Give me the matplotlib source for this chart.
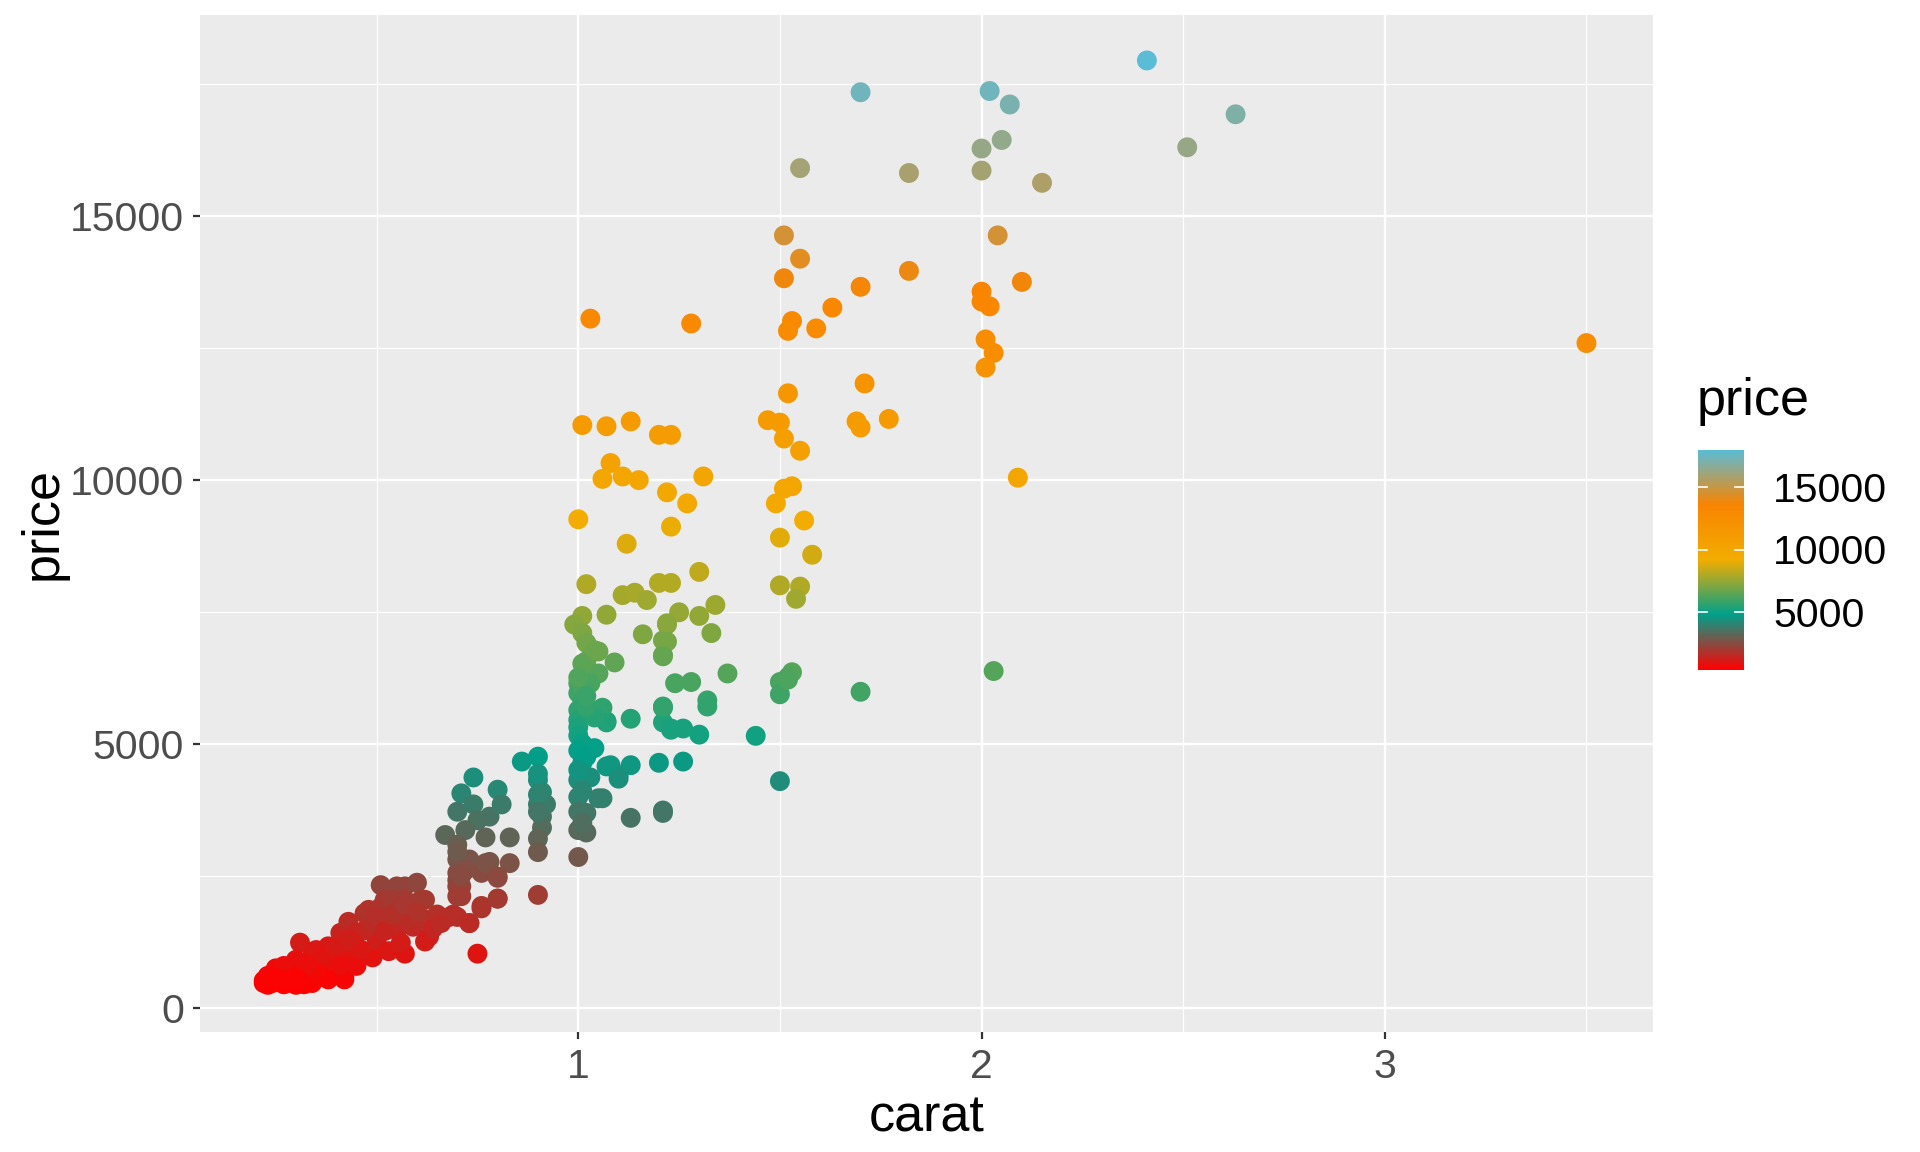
import matplotlib
matplotlib.use("Agg")
import matplotlib.pyplot as plt
from matplotlib.colors import LinearSegmentedColormap, Normalize
from matplotlib.cm import ScalarMappable

# ---------------- data ----------------
carat = [
    # top group
    2.41, 1.70, 2.02, 2.07, 2.63, 2.05, 2.00, 2.51, 1.55, 1.82, 2.00, 2.15,
    1.51, 2.04, 1.55, 1.82, 1.51, 2.10, 1.70, 1.63, 2.00, 2.02, 2.00, 1.03,
    1.28, 1.53, 1.52, 1.59, 2.01, 2.03, 2.01, 3.50,
    1.71, 1.52, 1.47, 1.50, 1.69, 1.77, 1.70, 1.01, 1.07, 1.13, 1.20, 1.23,
    1.51, 1.55, 1.08, 1.06, 1.11, 1.15, 1.31, 2.09, 1.22, 1.53, 1.51, 1.49,
    1.27, 1.00, 1.56, 1.23, 1.50, 1.12, 1.58, 1.30, 1.02, 1.20, 1.23, 1.50,
    1.55, 1.54, 1.11, 1.14, 1.17, 1.34, 1.01, 1.07, 1.25, 1.30, 1.22, 1.16,
    1.33, 0.99, 1.01, 1.02, 1.21, 1.02, 1.05, 1.01, 1.05, 1.09, 1.21, 1.37,
    1.24, 1.28, 1.53, 1.52, 1.50, 1.50, 2.03, 1.70,
    # 1.0 - 1.5 carat, mid prices
    1.13, 1.07, 1.21, 1.21, 1.23, 1.26, 1.32, 1.32, 1.30, 1.44, 1.20, 1.26,
    1.13, 1.08, 1.10, 1.50, 1.05, 1.13, 1.21, 1.21,
    1.04, 1.01, 1.00, 1.03, 1.00, 1.01, 1.00, 1.06, 1.07, 1.00, 1.00, 1.04,
    1.01, 1.02, 1.00, 1.01, 1.02, 1.00,
    1.00, 1.04, 1.01, 1.07, 1.10, 1.00, 1.03, 1.00, 1.00, 1.02, 1.00, 1.02,
    1.00, 1.01, 1.02, 1.00, 1.01, 1.22, 1.22, 1.21, 1.21, 1.23, 1.52, 1.06,
    # 0.9 column
    0.86, 0.90, 0.90, 0.91, 0.90, 0.91, 0.92, 0.91, 0.90, 0.90, 0.90, 0.90,
    0.90, 0.90,
    # 0.7 - 0.8 group
    0.74, 0.71, 0.80, 0.70, 0.74, 0.78, 0.75, 0.81, 0.67, 0.72, 0.77, 0.83,
    0.70, 0.70, 0.73, 0.78, 0.83, 0.70, 0.71, 0.76, 0.80, 0.80, 0.62, 0.69,
    0.73, 0.76, 0.75, 0.70, 0.70, 0.71, 0.70, 0.71, 0.77, 0.72, 0.70, 0.71,
    # low red cluster
    0.22, 0.24, 0.23, 0.27, 0.30, 0.25, 0.30, 0.34, 0.31, 0.30, 0.34, 0.35,
    0.38, 0.39, 0.42, 0.40, 0.44, 0.41, 0.43, 0.45, 0.47, 0.49, 0.50, 0.51,
    0.52, 0.53, 0.53, 0.55, 0.55, 0.57, 0.60, 0.57, 0.61, 0.57, 0.56, 0.59,
    0.62, 0.63, 0.65, 0.68, 0.70, 0.73, 0.76, 0.80, 0.80,
    0.22, 0.24, 0.27, 0.29, 0.32, 0.28, 0.27, 0.36, 0.38, 0.42, 0.32, 0.45,
    0.47, 0.49, 0.51, 0.54, 0.56, 0.59, 0.62, 0.64, 0.44, 0.48, 0.50, 0.36,
    0.33, 0.26, 0.31, 0.35, 0.39, 0.41, 0.46, 0.52, 0.58, 0.66, 0.23, 0.25,
    0.28, 0.33, 0.37, 0.40, 0.43, 0.30, 0.54, 0.57, 0.60,
]
price = [
    # top group
    17941, 17339, 17362, 17107, 16921, 16435, 16272, 16296, 15902, 15809, 15855, 15623,
    14627, 14627, 14186, 13954, 13815, 13746, 13653, 13259, 13560, 13282, 13375, 13050,
    12958, 13004, 12819, 12865, 12656, 12401, 12123, 12587,
    11822, 11636, 11126, 11080, 11103, 11150, 10987, 11034, 11011, 11103, 10848, 10848,
    10779, 10547, 10315, 10014, 10060, 9991, 10060, 10037, 9759, 9875, 9828, 9550,
    9550, 9249, 9226, 9110, 8901, 8785, 8577, 8252, 8020, 8043, 8043, 7997,
    7974, 7742, 7812, 7858, 7719, 7626, 7418, 7441, 7487, 7418, 7255, 7070,
    7093, 7255, 7093, 6908, 6954, 6560, 6745, 6328, 6328, 6537, 6676, 6328,
    6143, 6166, 6351, 6259, 6166, 5934, 6374, 5981,
    # 1.0 - 1.5 carat, mid prices
    5470, 5424, 5679, 5401, 5285, 5285, 5818, 5702, 5169, 5146, 4636, 4659,
    4590, 4590, 4404, 4288, 3964, 3593, 3732, 3686,
    6769, 6514, 6143, 6143, 5957, 5818, 5633, 5679, 5401, 5447, 5308, 5494,
    6050, 5700, 5150, 5000, 5900, 6250,
    4868, 4914, 4636, 4567, 4335, 4311, 4358, 3987, 3709, 3686, 3361, 3315,
    2851, 4100, 4750, 4500, 3500, 7279, 6931, 6653, 5702, 5262, 6212, 3964,
    # 0.9 column
    4659, 4752, 4311, 4080, 3848, 3616, 3848, 3407, 3199, 2944, 2133, 4427,
    4033, 3709,
    # 0.7 - 0.8 group
    4358, 4057, 4126, 3709, 3848, 3616, 3547, 3848, 3268, 3361, 3222, 3222,
    3083, 2805, 2805, 2758, 2735, 2411, 2295, 2550, 2457, 2063, 2040, 1762,
    1599, 1924, 1020, 2550, 2295, 2109, 1715, 2735, 2735, 2600, 2950, 2500,
    # low red cluster
    464, 533, 430, 440, 430, 742, 649, 464, 1229, 904, 974, 1089,
    1159, 719, 533, 974, 997, 1414, 1623, 1414, 1785, 950, 1275, 2318,
    2040, 1715, 1067, 1460, 2295, 2295, 2364, 2040, 2040, 1020, 1229, 1530,
    1669, 1344, 1762, 1715, 2109, 1599, 1878, 2480, 2063,
    510, 460, 450, 470, 440, 626, 788, 579, 533, 603, 695, 788,
    1460, 1600, 1900, 2040, 1900, 1800, 1250, 1500, 1250, 1850, 1700, 880,
    600, 480, 520, 700, 900, 800, 1100, 1450, 1650, 1600, 600, 560,
    520, 800, 1000, 1150, 1300, 560, 1750, 1950, 1800,
]

palette = ["#FF0000", "#00A08A", "#F2AD00", "#F98400", "#5BBCD6"]
x_ticks = [1, 2, 3]
x_minor = [0.5, 1.5, 2.5, 3.5]
y_ticks = [0, 5000, 10000, 15000]
y_minor = [2500, 7500, 12500, 17500]
legend_ticks = [5000, 10000, 15000]
x_title, y_title, legend_title = "carat", "price", "price"

# ---------------- styling ----------------
plt.rcParams['font.family'] = ['Liberation Sans', 'DejaVu Sans']
W, H = 1920, 1152
fig = plt.figure(figsize=(W / 100, H / 100), dpi=100)
fig.patch.set_facecolor('white')

L, R, T, B = 200, 1653, 15, 1032
ax = fig.add_axes([L / W, 1 - B / H, (R - L) / W, (B - T) / H])
ax.set_facecolor('#EBEBEB')
for s in ax.spines.values():
    s.set_visible(False)

cmap = LinearSegmentedColormap.from_list('darjeeling', palette, N=256)
norm = Normalize(vmin=min(price), vmax=max(price))
ax.scatter(carat, price, c=price, cmap=cmap, norm=norm, s=205,
           linewidths=0, zorder=3)

ax.set_xlim(0.062, 3.665)
ax.set_ylim(-464, 18802)
ax.set_xticks(x_ticks)
ax.set_xticklabels([str(v) for v in x_ticks])
ax.set_xticks(x_minor, minor=True)
ax.set_yticks(y_ticks)
ax.set_yticklabels([str(v) for v in y_ticks])
ax.set_yticks(y_minor, minor=True)
ax.grid(which='major', color='white', linewidth=1.7, zorder=1)
ax.grid(which='minor', color='white', linewidth=0.85, zorder=1)
ax.set_axisbelow(True)
ax.tick_params(which='major', length=5, width=1.6, color='#333333',
               labelsize=29.5, labelcolor='#4D4D4D', pad=6.5)
ax.tick_params(which='minor', length=0)

fig.text((L + R) / 2 / W, 1 - 1131 / H, x_title, fontsize=37.5,
         ha='center', va='baseline', color='black')
fig.text(43 / W, 1 - (T + B) / 2 / H, y_title, fontsize=37.5,
         ha='center', va='center', rotation=90, color='black')

# ---------------- colour bar legend ----------------
px_per_unit = 62.8 / 5000
y5000 = 612.3
bar_bottom = y5000 + (5000 - norm.vmin) * px_per_unit
bar_top = y5000 - (norm.vmax - 5000) * px_per_unit
bx0, bw = 1698, 46
cax = fig.add_axes([bx0 / W, 1 - bar_bottom / H, bw / W, (bar_bottom - bar_top) / H])
cb = fig.colorbar(ScalarMappable(norm=norm, cmap=cmap), cax=cax)
cb.outline.set_visible(False)
cb.set_ticks(legend_ticks)
cb.set_ticklabels([str(v) for v in legend_ticks])
cax.tick_params(length=0, labelsize=29.5, labelcolor='black', pad=21)
tr = cax.get_yaxis_transform()
for v in legend_ticks:
    cax.plot([0, 0.19], [v, v], color='white', lw=1.2, transform=tr, zorder=5)
    cax.plot([0.81, 1], [v, v], color='white', lw=1.2, transform=tr, zorder=5)

fig.text(1697 / W, 1 - 415 / H, legend_title, fontsize=37.5,
         ha='left', va='baseline', color='black')

fig.savefig('out.png', dpi=100)
